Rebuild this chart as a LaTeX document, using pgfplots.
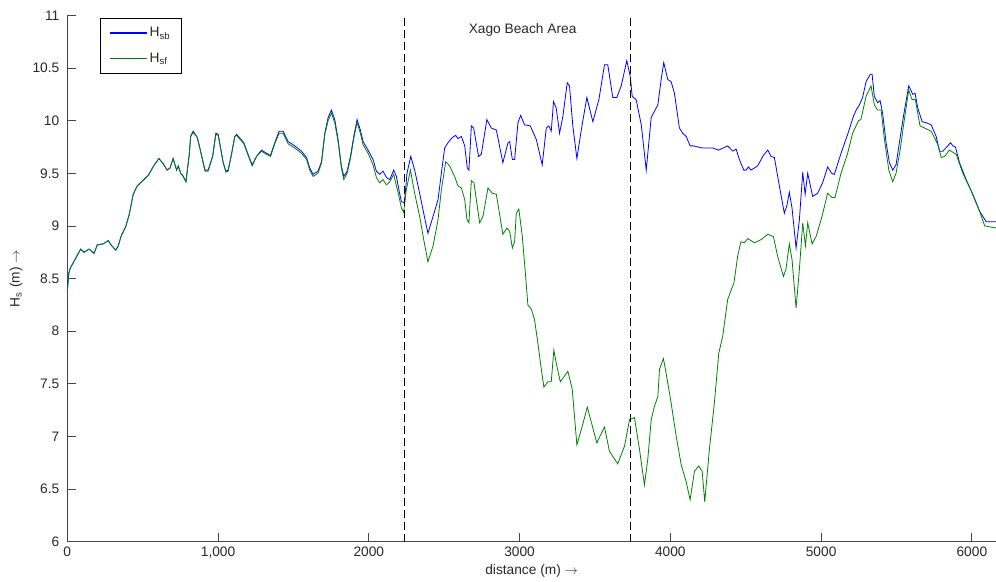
\documentclass[border=0pt]{standalone}
\usepackage{fontspec}
\setmainfont{Liberation Sans}
\usepackage{pgfplots}
\pgfplotsset{compat=1.18}
\usepackage{pgfplotstable}
\definecolor{mblue}{RGB}{0,0,255}
\definecolor{mgreen}{RGB}{0,128,0}
\definecolor{axgray}{RGB}{70,70,70}
\definecolor{txtgray}{RGB}{40,40,40}

\pgfplotstableread{
x y
0 8.38
10 8.55
20 8.60
89 8.78
111 8.75
144 8.78
177 8.74
199 8.82
239 8.83
272 8.86
290 8.82
321 8.77
338 8.81
356 8.90
387 8.99
411 9.11
437 9.30
464 9.38
537 9.48
577 9.58
608 9.64
636 9.59
663 9.53
681 9.55
702 9.64
725 9.53
736 9.57
752 9.50
765 9.48
787 9.42
809 9.68
818 9.85
835 9.90
862 9.84
879 9.74
913 9.53
934 9.53
964 9.66
985 9.88
1001 9.87
1034 9.60
1052 9.52
1067 9.53
1089 9.68
1111 9.85
1123 9.87
1171 9.79
1199 9.68
1226 9.58
1255 9.66
1288 9.72
1321 9.69
1348 9.67
1376 9.79
1405 9.90
1431 9.90
1465 9.80
1509 9.76
1553 9.71
1587 9.65
1608 9.55
1630 9.49
1663 9.52
1686 9.61
1708 9.88
1730 10.03
1752 10.10
1774 10.01
1796 9.82
1818 9.57
1834 9.47
1856 9.52
1878 9.66
1900 9.85
1922 10.01
1944 9.91
1962 9.80
1995 9.72
2028 9.63
2050 9.52
2072 9.49
2094 9.52
2117 9.46
2139 9.44
2165 9.53
2183 9.47
2200 9.34
2216 9.23
2236 9.22
2253 9.50
2278 9.66
2304 9.53
2337 9.31
2364 9.12
2392 8.93
2426 9.09
2459 9.25
2481 9.50
2503 9.74
2525 9.79
2554 9.84
2576 9.86
2591 9.83
2614 9.85
2636 9.76
2653 9.55
2664 9.53
2680 9.95
2695 9.93
2728 9.66
2746 9.68
2783 10.01
2812 9.93
2846 9.91
2889 9.60
2923 9.79
2934 9.80
2952 9.63
2967 9.63
2989 9.98
3007 10.05
3033 9.96
3071 9.95
3111 9.82
3150 9.58
3177 9.93
3194 9.95
3210 9.90
3225 10.18
3243 10.12
3265 9.88
3287 10.04
3316 10.36
3331 10.33
3353 9.95
3380 9.64
3409 9.91
3446 10.22
3486 9.99
3526 10.20
3563 10.53
3585 10.53
3618 10.22
3645 10.22
3674 10.33
3711 10.57
3734 10.42
3747 10.23
3773 10.20
3807 9.96
3840 9.53
3873 10.03
3917 10.15
3939 10.39
3956 10.55
3983 10.39
4005 10.37
4027 10.26
4060 9.93
4082 9.88
4105 9.85
4131 9.76
4153 9.76
4182 9.75
4215 9.74
4248 9.74
4281 9.74
4321 9.72
4380 9.76
4414 9.71
4436 9.73
4458 9.63
4487 9.53
4502 9.53
4518 9.56
4535 9.53
4579 9.57
4617 9.67
4646 9.72
4668 9.66
4690 9.65
4723 9.38
4756 9.12
4774 9.20
4789 9.32
4807 9.17
4834 8.79
4856 9.06
4878 9.51
4894 9.30
4911 9.50
4944 9.28
4977 9.31
5010 9.41
5043 9.56
5070 9.50
5088 9.49
5132 9.69
5176 9.87
5214 10.04
5236 10.11
5254 10.15
5275 10.22
5298 10.37
5326 10.44
5338 10.44
5353 10.23
5375 10.17
5391 10.19
5408 10.07
5431 9.79
5453 9.60
5475 9.53
5497 9.58
5519 9.79
5546 10.04
5581 10.33
5608 10.25
5623 10.26
5641 10.12
5670 9.99
5697 9.98
5730 9.96
5763 9.85
5785 9.71
5807 9.71
5834 9.75
5858 9.79
5874 9.76
5891 9.75
5918 9.60
5962 9.44
6006 9.30
6051 9.14
6095 9.04
6160 9.04
}\hsb

\pgfplotstableread{
x y
0 8.38
10 8.55
20 8.60
89 8.78
111 8.75
144 8.78
177 8.74
199 8.82
239 8.83
272 8.86
290 8.82
321 8.77
338 8.81
356 8.90
387 8.99
411 9.11
437 9.30
464 9.38
537 9.48
577 9.58
608 9.64
636 9.59
663 9.53
681 9.55
702 9.64
725 9.53
736 9.57
752 9.50
765 9.48
787 9.42
809 9.68
818 9.85
835 9.89
862 9.84
879 9.74
913 9.52
934 9.52
964 9.66
985 9.87
1001 9.86
1034 9.60
1052 9.51
1067 9.52
1089 9.68
1111 9.85
1123 9.86
1171 9.78
1199 9.67
1226 9.57
1255 9.66
1288 9.71
1321 9.68
1348 9.66
1376 9.78
1405 9.88
1431 9.88
1465 9.78
1509 9.74
1553 9.69
1587 9.63
1608 9.53
1630 9.47
1663 9.50
1686 9.60
1708 9.87
1730 10.00
1752 10.07
1774 9.98
1796 9.80
1818 9.55
1834 9.44
1856 9.50
1878 9.64
1900 9.83
1922 9.98
1944 9.88
1962 9.77
1995 9.69
2028 9.58
2050 9.46
2072 9.41
2094 9.44
2117 9.39
2139 9.42
2165 9.49
2183 9.38
2200 9.28
2216 9.17
2231 9.13
2248 9.34
2276 9.53
2304 9.31
2337 9.09
2364 8.87
2392 8.66
2426 8.81
2459 9.06
2481 9.34
2510 9.61
2536 9.57
2569 9.47
2591 9.38
2614 9.36
2636 9.25
2651 9.06
2664 9.03
2680 9.43
2697 9.41
2735 9.03
2757 9.09
2790 9.36
2819 9.31
2846 9.30
2889 8.92
2916 8.98
2934 8.95
2952 8.79
2967 8.85
2978 9.12
2995 9.16
3018 8.90
3040 8.52
3055 8.25
3078 8.21
3099 8.11
3121 7.89
3144 7.64
3161 7.47
3188 7.52
3210 7.52
3227 7.82
3247 7.67
3270 7.52
3320 7.62
3349 7.45
3380 6.92
3416 7.10
3449 7.28
3475 7.14
3512 6.94
3563 7.09
3596 6.86
3651 6.74
3696 6.91
3729 7.16
3762 7.18
3795 6.88
3828 6.54
3850 6.78
3873 7.16
3895 7.29
3917 7.38
3928 7.64
3954 7.74
3972 7.60
4005 7.32
4039 7.00
4072 6.73
4105 6.57
4131 6.40
4160 6.67
4188 6.72
4211 6.67
4228 6.38
4259 6.88
4292 7.32
4321 7.79
4347 7.95
4380 8.30
4400 8.38
4422 8.46
4446 8.71
4468 8.85
4491 8.84
4513 8.88
4558 8.84
4602 8.87
4646 8.92
4683 8.90
4712 8.71
4750 8.52
4767 8.59
4789 8.83
4807 8.68
4834 8.22
4856 8.59
4878 9.03
4896 8.81
4911 9.03
4940 8.83
4967 8.90
5006 9.09
5043 9.31
5072 9.27
5092 9.27
5132 9.50
5176 9.69
5209 9.88
5248 10.00
5264 10.01
5298 10.23
5331 10.33
5353 10.15
5375 10.10
5398 10.10
5420 9.82
5449 9.53
5475 9.42
5497 9.50
5524 9.72
5552 10.01
5581 10.29
5603 10.20
5625 10.20
5656 9.95
5685 9.93
5730 9.90
5775 9.77
5797 9.65
5819 9.66
5851 9.72
5896 9.68
5940 9.50
5996 9.33
6051 9.14
6085 9.00
6160 8.98
}\hsf

\begin{document}
\begin{tikzpicture}
\begin{axis}[
  name=ax,
  at={(0,0)}, anchor=south west,
  scale only axis,
  width=696.75pt, height=395pt,
  xmin=0, xmax=6160, ymin=6, ymax=11,
  axis x line=bottom, axis y line=left,
  axis line style={axgray, line width=0.6pt, -},
  tick align=inside,
  major tick length=6.8pt,
  tick style={axgray, line width=0.6pt},
  xtick={0,1000,2000,3000,4000,5000,6000},
  xticklabels={0,{1,000},2000,3000,4000,5000,6000},
  ytick={6,6.5,7,7.5,8,8.5,9,9.5,10,10.5,11},
  yticklabels={6,6.5,7,7.5,8,8.5,9,9.5,10,10.5,11},
  ticklabel style={font=\fontsize{10.3}{12}\selectfont, text=txtgray},
  yticklabel style={xshift=-2.5pt},
  xticklabel style={yshift=-0.5pt},
  xlabel={distance (m) $\rightarrow$},
  ylabel={H\textsubscript{s} (m) $\rightarrow$},
  label style={font=\fontsize{10.3}{12}\selectfont, text=txtgray},
  xlabel style={at={(axis description cs:0.5,0)}, anchor=center, yshift=-21.5pt},
  ylabel style={at={(axis description cs:-0.0553,0.5)}, anchor=center},
  legend cell align=left,
  legend image code/.code={\draw[#1, line width=0.8pt] (0pt,0pt) -- (28pt,0pt);},
  legend style={at={(rel axis cs:0.0355,0.9956)}, anchor=north west,
    draw=black, line width=0.5pt, fill=white,
    font=\fontsize{10.3}{12}\selectfont,
    inner xsep=6.5pt, inner ysep=5.5pt, row sep=7.5pt,
    nodes={inner sep=1.5pt}},
  clip=false,
]
\addplot[mblue, line width=0.6pt] table[x=x,y=y]{\hsb};
\addlegendentry{\textcolor{txtgray}{H\textsubscript{sb}}}
\addplot[mgreen, line width=0.6pt] table[x=x,y=y]{\hsf};
\addlegendentry{\textcolor{txtgray}{H\textsubscript{sf}}}
\addplot[black, line width=0.6pt, dash pattern=on 6pt off 3pt, forget plot] coordinates {(2236,6) (2236,11)};
\addplot[black, line width=0.6pt, dash pattern=on 6pt off 3pt, forget plot] coordinates {(3737,6) (3737,11)};
\node[font=\fontsize{10.3}{12}\selectfont, text=txtgray] at (axis cs:3020,10.86) {Xago Beach Area};
\end{axis}
\pgfresetboundingbox
\path (-50.5pt,-30pt) rectangle (696.75pt,406.5pt);
\end{tikzpicture}
\end{document}
